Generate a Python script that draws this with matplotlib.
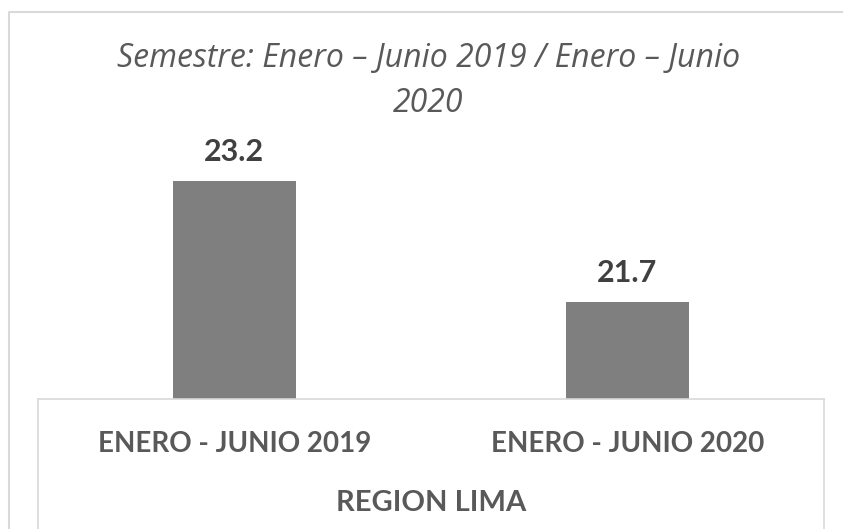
import matplotlib
matplotlib.use("Agg")
import matplotlib.pyplot as plt
from matplotlib.lines import Line2D

categories = ["ENERO - JUNIO 2019", "ENERO - JUNIO 2020"]
values = [23.2, 21.7]
group_label = "REGION LIMA"
title = "Semestre: Enero – Junio 2019 / Enero – Junio\n2020"

W, H = 843, 529
fig = plt.figure(figsize=(W / 100, H / 100), dpi=100)
plt.rcParams['font.family'] = ['Lato', 'DejaVu Sans']
bold_font = ['Lato', 'DejaVu Sans']
title_font = ['Open Sans', 'DejaVu Sans']

left, right = 37.7 / W, 824 / W
bottom_px, top_px = 399, 116.5
ax = fig.add_axes([left, 1 - bottom_px / H, right - left, (bottom_px - top_px) / H])

x = list(range(len(categories)))
bars = ax.bar(x, values, width=0.313, color="#7f7f7f", zorder=2)
ax.set_xlim(-0.5, len(categories) - 0.5)
ax.set_ylim(20.5, 24)

for sp in ["left", "right", "top"]:
    ax.spines[sp].set_visible(False)
ax.spines["bottom"].set_color("#d9d9d9")
ax.spines["bottom"].set_linewidth(1.2)
ax.set_yticks([])
ax.set_xticks(x)
ax.set_xticklabels(categories, fontsize=20, fontweight="bold", color="#595959",
                   family=bold_font)
ax.tick_params(axis="x", length=0, pad=23)

for xi, v in zip(x, values):
    ax.annotate(f"{v:.1f}", (xi, v), xytext=(0, 11), textcoords="offset points",
                ha="center", va="bottom", fontsize=22, fontweight="bold", color="#404040",
                family=bold_font)

# category box vertical lines
ybot = (bottom_px - 529) / (bottom_px - top_px)
for xa in (0, 1):
    ax.add_line(Line2D([xa, xa], [0, ybot], transform=ax.transAxes, color="#d9d9d9",
                       lw=1.2, clip_on=False))

fig.text((left + right) / 2, 1 - 503 / H, group_label, ha="center", va="center",
         fontsize=21, fontweight="bold", color="#595959", family=bold_font)

fig.text(0.508, 1 - 81 / H, title, ha="center", va="center", fontsize=23,
         style="italic", color="#595959", linespacing=1.45, family=title_font)

# outer frame
fig.add_artist(Line2D([8.5 / W, 8.5 / W, 1.0], [0, 1 - 12 / H, 1 - 12 / H],
                      transform=fig.transFigure, color="#d9d9d9", lw=1.5))

fig.savefig("out.png", dpi=100, facecolor="white")
